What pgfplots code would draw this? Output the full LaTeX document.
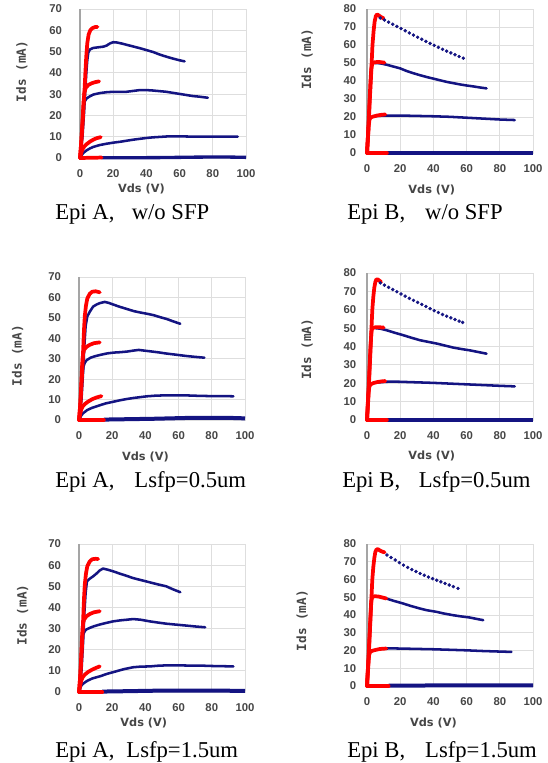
\documentclass[border=0pt]{standalone}
\usepackage{fontspec}
\setmainfont{Liberation Serif}
\newfontfamily\tickfont{Liberation Sans}
\newfontfamily\labfont{DejaVu Sans}
\newfontfamily\idsfont{DejaVu Sans Mono}
\usepackage{pgfplots}
\pgfplotsset{compat=1.18}

\definecolor{navy}{RGB}{20,20,130}
\definecolor{gridgray}{RGB}{222,222,222}
\definecolor{axgray}{RGB}{165,165,165}
\definecolor{txtgray}{RGB}{70,70,70}

\pgfplotsset{
  iv/.style={
    scale only axis, width=124.5pt,
    xmin=0, xmax=100, ymin=0,
    xtick={0,20,...,100}, ytick distance=10,
    grid=major, grid style={draw=gridgray, line width=0.7pt},
    axis line style={draw=gridgray, line width=0.7pt},
    major tick length=0pt,
    clip=false,
    tick label style={font=\tickfont\bfseries\fontsize{8.5}{9}\selectfont, text=txtgray},
    /pgf/number format/assume math mode=true,
    xticklabel style={yshift=-5pt},
    xlabel={Vds (V)}, ylabel={Ids (mA)},
    xlabel style={font=\labfont\bfseries\fontsize{8.5}{9}\selectfont, text=txtgray, anchor=north},
    ylabel style={font=\idsfont\bfseries\fontsize{9.5}{10}\selectfont, text=txtgray, anchor=center},
    anchor=south west,
  },
  epiA/.style={iv, ymax=70, yticklabel style={xshift=-10pt}},
  epiB/.style={iv, ymax=80, yticklabel style={xshift=-4.5pt}},
  dc/.style={red, line width=2.8pt, line join=round, line cap=round},
  pl/.style={navy, line width=1.9pt, line join=round, line cap=round},
  pz/.style={navy, line width=2.5pt},
  pd/.style={navy, only marks, mark=*, mark size=1.1pt},
}
\newcommand\yaxisline{\draw[axgray, line width=0.8pt] (rel axis cs:0,0) -- (rel axis cs:0,1);}

\begin{document}
\begin{tikzpicture}
\useasboundingbox (0,0) rectangle (410.25pt,572.25pt);

% ---------- Epi A, w/o SFP
\begin{axis}[epiA, at={(60pt,453.75pt)}, height=111.75pt,
  xlabel style={at={(axis description cs:0.37,-0.14)}},
  ylabel style={at={(axis description cs:-0.35,0.58)}}]
\yaxisline
\addplot[pl] coordinates {(0,0)(1.5,10)(2.5,22)(3.2,32)(3.8,40)(4.4,46)(5,49.5)(6,51)(8,51.7)(11,52)(14,52.3)(16,52.8)(18,53.8)(20,54.4)(22,54.3)(25,53.8)(28,53.2)(32,52.4)(36,51.6)(40,50.7)(44,49.8)(48,48.6)(52,47.6)(56,46.7)(60,45.9)(63,45.4)};
\addplot[pl] coordinates {(0,0)(1,10)(1.6,20)(2,24.5)(3,26.8)(4,28)(6,29)(8,29.8)(12,30.5)(16,30.9)(20,31.1)(24,31.1)(28,31.1)(32,31.5)(36,31.9)(40,31.9)(44,31.7)(48,31.4)(52,31.1)(56,30.6)(60,30.1)(64,29.6)(68,29.1)(72,28.8)(77,28.3)};
\addplot[pl] coordinates {(0,0)(1,1.3)(2,2.4)(4,3.6)(6,4.5)(8,5.2)(12,6.1)(16,6.7)(20,7.2)(24,7.6)(28,8.1)(32,8.6)(36,9)(40,9.4)(44,9.7)(48,9.9)(52,10.1)(56,10.2)(60,10.2)(64,10.1)(72,10)(80,10)(88,10)(95,10)};
\addplot[pz] coordinates {(13,0.1)(30,0.1)(50,0.2)(70,0.4)(85,0.5)(100,0.3)};
\addplot[dc] coordinates {(0,0)(0.8,8)(1.5,16)(2.2,25)(2.8,33)(3.3,41)(3.8,48)(4.4,54)(5.2,58)(6.2,60)(7.5,61)(9,61.5)(10.5,61.6)};
\addplot[dc] coordinates {(0,0)(0.8,8)(1.5,17)(2.1,26)(2.7,31)(3.5,33)(5,34.3)(7,35.1)(9,35.6)(11.5,36)};
\addplot[dc] coordinates {(0,0)(0.8,2.5)(1.6,4.2)(2.5,5.3)(4,6.5)(6,7.7)(8,8.6)(10,9.3)(12.5,9.8)};
\addplot[dc] coordinates {(0,0)(13,0.2)};
\end{axis}

% ---------- Epi B, w/o SFP
\begin{axis}[epiB, at={(275.25pt,457.5pt)}, height=108pt,
  xlabel style={at={(axis description cs:0.39,-0.19)}},
  ylabel style={at={(axis description cs:-0.36,0.65)}}]
\yaxisline
\addplot[pd] coordinates {(8,75)(10.5,73.9)(13,72.7)(15.5,71.5)(18,70.3)(20.5,69.1)(23,67.9)(25.5,66.7)(28,65.5)(30.5,64.3)(33,63.2)(35.5,62)(38,60.9)(40.5,59.8)(43,58.7)(45.5,57.6)(48,56.6)(50.5,55.6)(53,54.6)(55.5,53.6)(58,52.7)};
\addplot[pl] coordinates {(5,50)(8,49.8)(12,49)(16,48)(20,47)(24,45.5)(28,44.3)(32,43.2)(36,42.2)(40,41.3)(44,40.4)(48,39.5)(52,38.8)(56,38.1)(60,37.5)(64,37)(68,36.4)(72,35.9)};
\addplot[pl] coordinates {(5,20.5)(10,20.8)(15,20.8)(20,20.8)(30,20.6)(40,20.4)(50,20.1)(60,19.6)(70,19.1)(80,18.6)(89,18.3)};
\addplot[pz] coordinates {(12,0)(100,0)};
\addplot[dc] coordinates {(0,0)(0.7,10)(1.2,20)(1.7,30)(2.3,40)(2.8,50)(3.3,60)(4,68)(4.6,73)(5.3,76)(6,77)(7,76.5)(8.5,75.5)(10,74.8)};
\addplot[dc] coordinates {(0,0)(0.6,10)(1.1,20)(1.6,30)(2.1,40)(2.6,47)(3.2,49.7)(4.5,50.4)(7,50.6)(10.5,50.2)};
\addplot[dc] coordinates {(0,0)(0.5,8)(1,15)(1.5,18.5)(2.2,19.7)(3.5,20.2)(6,20.8)(8.5,21.2)(11,21.4)};
\addplot[dc] coordinates {(0,0)(12,0)};
\end{axis}

% ---------- Epi A, Lsfp=0.5um
\begin{axis}[epiA, at={(59.25pt,257.25pt)}, height=107.25pt,
  xlabel style={at={(axis description cs:0.40,-0.19)}},
  ylabel style={at={(axis description cs:-0.37,0.45)}}]
\yaxisline
\addplot[pl] coordinates {(0,0)(1.5,10)(2.5,24)(3.2,36)(4,46)(5,50.7)(6.5,53)(8.5,55.5)(10.5,56.5)(12.5,57.2)(15.5,57.8)(18,57.3)(21,56.4)(25,55.3)(29,54.3)(33,53.3)(37,52.6)(41,52)(45,51.3)(49,50.3)(53,49.4)(57,48.2)(61,47.1)};
\addplot[pl] coordinates {(0,0)(1,10)(1.8,20)(2.6,26)(3.5,28)(4.6,29.3)(7,30.5)(10,31.3)(13,31.9)(17,32.6)(21,33)(25,33.2)(29,33.5)(33,34)(36,34.3)(40,33.9)(44,33.5)(48,33.1)(52,32.6)(56,32.2)(60,31.8)(65,31.3)(70,30.9)(75.5,30.5)};
\addplot[pl] coordinates {(0,0)(1.5,2.4)(2.6,3.4)(5,4.9)(8,6)(12.5,7.2)(16,8.1)(20.5,8.9)(25,9.7)(29,10.3)(33,10.8)(37,11.2)(41,11.6)(46,11.9)(53,12.1)(60,12.1)(66,12)(73,11.8)(80,11.7)(87,11.7)(93,11.6)};
\addplot[pz, line width=3pt] coordinates {(15,0.2)(30,0.4)(45,0.6)(55,0.8)(65,1)(75,1)(85,1)(92,1)(100,0.8)};
\addplot[dc] coordinates {(0,0)(0.8,8)(1.5,17)(2.1,27)(2.6,36)(3,44)(3.5,51)(4.2,56)(5,59.5)(6.5,61.8)(8,62.8)(10,63)(12.5,62.5)};
\addplot[dc] coordinates {(0,0)(0.8,8)(1.4,18)(1.9,27)(2.4,32)(3,34.3)(4.5,35.8)(6.5,36.8)(9,37.6)(12.5,38)};
\addplot[dc] coordinates {(0,0)(0.7,3)(1.4,5.2)(2.3,6.7)(3.5,7.8)(5.5,9)(8,10.2)(10.5,11)(13.5,11.7)};
\addplot[dc] coordinates {(0,0)(15,0)};
\end{axis}

% ---------- Epi B, Lsfp=0.5um
\begin{axis}[epiB, at={(275.25pt,257.25pt)}, height=110.25pt,
  xlabel style={at={(axis description cs:0.39,-0.18)}},
  ylabel style={at={(axis description cs:-0.36,0.48)}}]
\yaxisline
\addplot[pd] coordinates {(8,74.6)(10.5,73.4)(13,72.2)(15.5,71)(18,69.8)(20.5,68.6)(23,67.4)(25.5,66.2)(28,65.1)(30.5,64)(33,62.9)(35.5,61.8)(38,60.6)(40.5,59.5)(43,58.5)(45.5,57.4)(48,56.5)(50.5,55.6)(53,54.7)(55.5,53.8)(57.6,53.1)};
\addplot[pl] coordinates {(5,50)(8,49.7)(12,48.8)(17,47.4)(22,46.1)(27,44.7)(32,43.4)(37,42.5)(42,41.6)(47,40.5)(52,39.4)(57,38.6)(62,37.9)(67,37)(72,36.1)};
\addplot[pl] coordinates {(5,20.3)(10,20.7)(14,20.9)(20,20.8)(30,20.5)(40,20.2)(50,19.8)(60,19.4)(70,19)(80,18.6)(89,18.3)};
\addplot[pz] coordinates {(12,0)(100,0)};
\addplot[dc] coordinates {(0,0)(0.7,10)(1.2,20)(1.7,30)(2.2,40)(2.7,50)(3.2,60)(3.8,67)(4.4,72)(5,75)(5.6,76.5)(6.5,76.5)(7.5,75.8)(8.5,75.2)};
\addplot[dc] coordinates {(0,0)(0.6,10)(1.1,20)(1.6,30)(2.1,40)(2.6,47)(3,49.8)(4.5,50.4)(7,50.5)(10,50.3)};
\addplot[dc] coordinates {(0,0)(0.4,8)(0.9,15)(1.4,18)(2,19.2)(3.5,20)(6,20.6)(8.5,21)(11,21.2)};
\addplot[dc] coordinates {(0,0)(12,0)};
\end{axis}

% ---------- Epi A, Lsfp=1.5um
\begin{axis}[epiA, at={(59.25pt,53.25pt)}, height=111pt,
  xlabel style={at={(axis description cs:0.39,-0.14)}},
  ylabel style={at={(axis description cs:-0.34,0.52)}}]
\yaxisline
\addplot[pl] coordinates {(0,0)(1.5,10)(2.5,24)(3.2,37)(4,47)(4.8,52.4)(6.5,53.6)(8.5,54.7)(10.5,56)(12.5,57.5)(14.5,58.4)(17,57.9)(20.5,57.1)(24.5,56)(28.5,55)(32.5,53.9)(37,53)(42.5,51.9)(47,51)(52.5,50)(56.5,48.6)(61,47.2)};
\addplot[pl] coordinates {(0,0)(1,10)(1.7,20)(2.4,27)(3.5,28.8)(4.5,29.6)(6.4,30.3)(9,31.1)(12.5,31.9)(16,32.6)(20.5,33.4)(25,33.9)(29,34.2)(32.6,34.5)(37,34.2)(42.7,33.4)(47,32.9)(52.7,32.3)(58,31.9)(64.8,31.4)(70,31)(76,30.6)};
\addplot[pl] coordinates {(0,0)(1.2,2.8)(2.4,3.9)(5,5.3)(8,6.4)(12.5,7.4)(17,8.6)(22.5,9.8)(27,10.8)(32.6,11.7)(37,12)(42.7,12.1)(47,12.4)(52.7,12.6)(60,12.6)(66,12.5)(72.8,12.5)(80,12.3)(87,12.2)(93,12.1)};
\addplot[pz, line width=3pt] coordinates {(14,0.2)(30,0.4)(45,0.6)(60,0.7)(75,0.7)(90,0.6)(100,0.5)};
\addplot[dc] coordinates {(0,0)(0.8,8)(1.5,17)(2.1,27)(2.6,36)(3,44)(3.5,51)(4.2,56)(5,59.5)(6.5,61.8)(8,62.8)(10,63)(11.5,62.9)};
\addplot[dc] coordinates {(0,0)(0.8,8)(1.4,18)(1.9,27)(2.4,32)(3,34.2)(4.5,35.8)(6.5,36.9)(9,37.7)(12.5,38.2)};
\addplot[dc] coordinates {(0,0)(0.7,3)(1.4,5.5)(2.4,7.2)(3.5,8.2)(5.5,9.5)(8,10.6)(10.5,11.5)(12.5,12.1)};
\addplot[dc] coordinates {(0,0)(14,0)};
\end{axis}

% ---------- Epi B, Lsfp=1.5um
\begin{axis}[epiB, at={(275.25pt,57.75pt)}, height=106.5pt,
  xlabel style={at={(axis description cs:0.40,-0.19)}},
  ylabel style={at={(axis description cs:-0.39,0.46)}}]
\yaxisline
\addplot[pd] coordinates {(12,73.8)(14.5,72.4)(17,71)(19.5,69.5)(22,68.1)(24.5,66.8)(27,65.6)(29.5,64.5)(32,63.4)(34.5,62.4)(37,61.4)(39.5,60.5)(42,59.6)(44.5,58.7)(47,57.8)(49.5,56.9)(52,56)(54.8,55)};
\addplot[pl] coordinates {(11.6,49.3)(16,48)(21.7,46.5)(26,45.2)(31.7,43.7)(36,42.7)(41.8,41.8)(46,40.9)(51.8,39.9)(56,39.3)(61.8,38.6)(66,37.8)(70,37.1)};
\addplot[pl] coordinates {(11.6,21.1)(14,21.2)(20,21.1)(30,20.9)(40,20.7)(50,20.4)(60,20.1)(70,19.7)(80,19.4)(87,19.2)};
\addplot[pz, line width=3pt] coordinates {(13,0.2)(40,0.3)(70,0.4)(100,0.3)};
\addplot[dc] coordinates {(0,0)(0.7,10)(1.2,20)(1.7,30)(2.2,40)(2.7,50)(3.2,60)(3.8,67)(4.4,72)(5,75.5)(5.8,77)(6.8,77)(8,76.2)(9.5,75.6)(10.6,75.3)};
\addplot[dc] coordinates {(0,0)(0.6,10)(1.1,20)(1.6,30)(2.1,40)(2.5,47)(3,50)(4.5,50.6)(7,50.4)(9.5,49.8)(11.6,49.3)};
\addplot[dc] coordinates {(0,0)(0.4,8)(0.9,14)(1.3,17.5)(1.8,19)(3,19.8)(5,20.3)(7.5,20.8)(9.5,21)(11.6,21.1)};
\addplot[dc] coordinates {(0,0)(13,0)};
\end{axis}

% ---------- captions
\begin{scope}[every node/.style={anchor=base west, inner sep=0pt, font=\fontsize{17}{20}\selectfont}]
\node at (41.25pt,407.25pt) {Epi A,\hspace{13pt}w/o SFP};
\node at (260.25pt,407.25pt) {Epi B,\hspace{15pt}w/o SFP};
\node at (41.25pt,206.25pt) {Epi A,\hspace{15pt}Lsfp=0.5um};
\node at (256.5pt,206.25pt) {Epi B,\hspace{14pt}Lsfp=0.5um};
\node at (41.25pt,4.5pt) {Epi A,\hspace{9pt}Lsfp=1.5um};
\node at (260.25pt,4.5pt) {Epi B,\hspace{15pt}Lsfp=1.5um};
\end{scope}
\end{tikzpicture}
\end{document}
